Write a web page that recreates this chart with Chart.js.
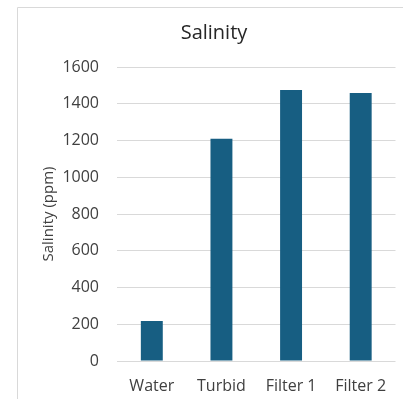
<!DOCTYPE html>
<html>
<head>
<meta charset="utf-8">
<script src="https://cdn.jsdelivr.net/npm/chart.js@4/dist/chart.umd.min.js"></script>
<style>
  html, body { margin: 0; padding: 0; background: #ffffff; }
  #wrap { width: 403px; height: 399px; }
</style>
</head>
<body>
<div id="wrap"><canvas id="chart" width="403" height="399"></canvas></div>
<script>
// Salinity readings per sample (ppm)
const categories = ['Water', 'Turbid', 'Filter 1', 'Filter 2'];
const salinity = [218, 1210, 1475, 1458];
const yTicks = [0, 200, 400, 600, 800, 1000, 1200, 1400, 1600];

const FONT = "'Open Sans', 'Noto Sans', sans-serif";

// Light frame around the chart area (top and left edges visible)
const framePlugin = {
  id: 'frame',
  beforeDraw(chart) {
    const ctx = chart.ctx;
    ctx.save();
    ctx.strokeStyle = '#d9d9d9';
    ctx.lineWidth = 1;
    ctx.beginPath();
    ctx.moveTo(17.5, chart.height);
    ctx.lineTo(17.5, 7.5);
    ctx.lineTo(chart.width, 7.5);
    ctx.stroke();
    ctx.restore();
  }
};

new Chart(document.getElementById('chart'), {
  type: 'bar',
  data: {
    labels: categories,
    datasets: [{
      label: 'Salinity',
      data: salinity,
      backgroundColor: '#175e82',
      borderWidth: 0,
      categoryPercentage: 1,
      barPercentage: 0.315
    }]
  },
  options: {
    responsive: false,
    animation: false,
    layout: { padding: { left: 32, right: 7, top: 9, bottom: 0 } },
    plugins: {
      legend: { display: false },
      tooltip: { enabled: false },
      title: {
        display: true,
        text: 'Salinity',
        color: '#262626',
        font: { family: FONT, size: 20, weight: 'normal', lineHeight: 1.2 },
        padding: { top: 12, bottom: 22 }
      }
    },
    scales: {
      x: {
        grid: { display: false, drawTicks: false },
        border: { display: false },
        ticks: {
          color: '#404040',
          font: { family: FONT, size: 16 },
          padding: 16,
          maxRotation: 0
        },
        afterFit(scale) { scale.height = 38; }
      },
      y: {
        min: 0,
        max: 1600,
        afterBuildTicks(scale) { scale.ticks = yTicks.map(v => ({ value: v })); },
        grid: { color: '#d9d9d9', lineWidth: 1, drawTicks: false },
        border: { display: false },
        ticks: {
          color: '#404040',
          font: { family: FONT, size: 16 },
          padding: 18,
          callback: (v) => String(v)
        },
        title: {
          display: true,
          text: 'Salinity (ppm)',
          color: '#404040',
          font: { family: FONT, size: 15, weight: 'normal' },
          padding: { top: 8, bottom: 0 }
        },
        afterFit(scale) { scale.width = 85; }
      }
    }
  },
  plugins: [framePlugin]
});
</script>
</body>
</html>
